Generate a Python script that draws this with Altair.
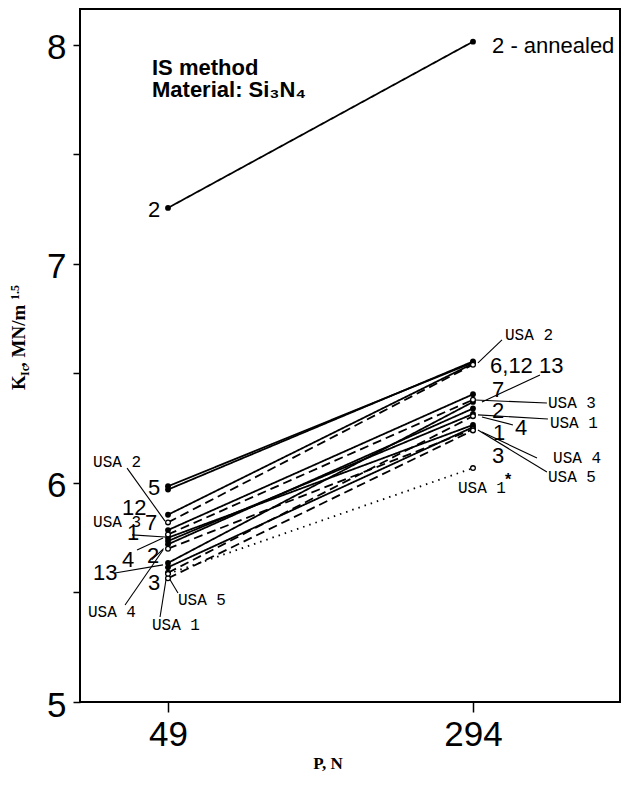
import altair as alt
import pandas as pd

# ---------------- data ----------------
loads = [49, 294]
series = ["2 annealed", "5", "6", "12", "USA 2", "7", "USA 3", "1", "4", "2",
          "USA 4", "13", "3", "USA 1", "USA 5", "USA 1*"]
k_at_49 = [7.256, 5.985, 5.97, 5.855, 5.82, 5.785, 5.765, 5.75, 5.735, 5.72,
           5.70, 5.635, 5.615, 5.59, 5.565, 5.585]
k_at_294 = [8.015, 6.55, 6.555, 6.545, 6.54, 6.405, 6.38, 6.265, 6.315, 6.34,
            6.245, 6.37, 6.255, 6.305, 6.24, 6.068]
line_style = ["solid", "solid", "solid", "solid", "dashed", "solid", "dashed", "solid",
              "solid", "solid", "dashed", "solid", "solid", "dashed", "dashed", "dotted"]
marker = ["filled", "filled", "filled", "filled", "open", "filled", "open", "filled",
          "filled", "filled", "open", "filled", "filled", "open", "open", "open"]

# point labels (sans digits)
num_text = ["2", "5", "12", "7", "1", "4", "2", "13", "3",
            "2 - annealed", "6,12  13", "7", "2", "4", "1", "3"]
num_P = [32.9, 32.9, 12.1, 30.5, 16.1, 12.1, 32.1, -11.2, 32.9,
         309.3, 307.7, 309.3, 309.3, 327.7, 310.1, 309.3]
num_K = [7.215, 5.945, 5.854, 5.785, 5.740, 5.616, 5.635, 5.557, 5.511,
         7.963, 6.502, 6.393, 6.297, 6.219, 6.196, 6.091]

# point labels (typewriter)
usa_text = ["USA 2", "USA 3", "USA 4", "USA 5", "USA 1",
            "USA 2", "USA 3", "USA 1", "USA 4", "USA 5", "USA 1"]
usa_P = [-11.2, -11.2, -15.3, 57.0, 36.1,
         319.7, 354.2, 355.8, 358.3, 354.2, 281.9]
usa_K = [6.073, 5.799, 5.388, 5.443, 5.329,
         6.653, 6.342, 6.251, 6.091, 6.005, 5.954]

# leader lines
lead_P1 = [16.1, 20.1, 6.4, 14.5, 57.0, 42.6, 24.1, 36.0,
           317.3, 347.8, 353.4, 354.2, 326.1, 345.4, 353.4]
lead_K1 = [6.068, 5.763, 5.589, 5.443, 5.498, 5.388, 5.694, 5.650,
           6.653, 6.493, 6.365, 6.292, 6.265, 6.114, 6.050]
lead_P2 = [46.6, 46.6, 45.0, 45.0, 49.8, 49.0, 45.0, 45.5,
           298.0, 301.2, 295.6, 298.0, 301.2, 301.2, 298.0]
lead_K2 = [5.826, 5.753, 5.626, 5.694, 5.566, 5.616, 5.749, 5.700,
           6.548, 6.370, 6.379, 6.311, 6.301, 6.233, 6.242]

# ---------------- tables ----------------
rows = []
for s, a, b, st, mk in zip(series, k_at_49, k_at_294, line_style, marker):
    rows.append({"series": s, "P": loads[0], "K": a, "style": st, "marker": mk})
    rows.append({"series": s, "P": loads[1], "K": b, "style": st, "marker": mk})
df = pd.DataFrame(rows)

num_df = pd.DataFrame({"text": num_text, "P": num_P, "K": num_K})
usa_df = pd.DataFrame({"text": usa_text, "P": usa_P, "K": usa_K})
lead_df = pd.DataFrame({"P1": lead_P1, "K1": lead_K1, "P2": lead_P2, "K2": lead_K2})

xscale = alt.Scale(domain=[-21.7, 412.1], nice=False, zero=False)
yscale = alt.Scale(domain=[5, 8.164], nice=False, zero=False)

x_enc = alt.X("P:Q", scale=xscale,
              axis=alt.Axis(values=loads, title=None, grid=False, domain=False,
                            tickSize=10, tickWidth=1.5, tickColor="black",
                            labelFont="Liberation Sans", labelFontSize=35,
                            labelColor="black", labelPadding=5))
y_enc = alt.Y("K:Q", scale=yscale,
              axis=alt.Axis(values=[5, 5.5, 6, 6.5, 7, 7.5, 8], title=None, grid=False,
                            domain=False, tickSize=7, tickWidth=1.5, tickColor="black",
                            labelExpr="datum.value % 1 === 0 ? format(datum.value, 'd') : ''",
                            labelFont="Liberation Sans", labelFontSize=35,
                            labelColor="black", labelPadding=7, labelOffset=3))

base = alt.Chart(df)

lines = base.mark_line(color="black", strokeWidth=1.8).encode(
    x=x_enc, y=y_enc, detail="series:N",
    strokeDash=alt.StrokeDash("style:N", legend=None,
                              scale=alt.Scale(domain=["solid", "dashed", "dotted"],
                                              range=[[1, 0], [9, 5], [1.5, 5]])),
)

filled_pts = base.transform_filter(alt.datum.marker == "filled").mark_circle(
    color="black", size=34, opacity=1).encode(
    x=alt.X("P:Q", scale=xscale), y=alt.Y("K:Q", scale=yscale))

open_pts = base.transform_filter(alt.datum.marker == "open").mark_point(
    shape="circle", filled=False, fill="white", fillOpacity=1, stroke="black",
    strokeWidth=1.3, size=22, opacity=1).encode(
    x=alt.X("P:Q", scale=xscale), y=alt.Y("K:Q", scale=yscale))

leaders = alt.Chart(lead_df).mark_rule(color="black", strokeWidth=1.1).encode(
    x=alt.X("P1:Q", scale=xscale), y=alt.Y("K1:Q", scale=yscale),
    x2="P2:Q", y2="K2:Q")

num_labels = alt.Chart(num_df).mark_text(
    font="Liberation Sans", fontSize=22, align="left", baseline="alphabetic",
    color="black").encode(
    x=alt.X("P:Q", scale=xscale), y=alt.Y("K:Q", scale=yscale), text="text:N")

usa_labels = alt.Chart(usa_df).mark_text(
    font="Liberation Mono", fontSize=16, align="left", baseline="alphabetic",
    color="black").encode(
    x=alt.X("P:Q", scale=xscale), y=alt.Y("K:Q", scale=yscale), text="text:N")

one = pd.DataFrame({"a": [0]})


def txt(t, x, y, **kw):
    return alt.Chart(one).mark_text(text=t, color="black", **kw).encode(
        x=alt.value(x), y=alt.value(y))


star = txt("*", 425, 476, font="Liberation Sans", fontSize=16, fontWeight="bold",
           align="left", baseline="alphabetic")

anno1 = txt("IS  method", 72, 66, font="Liberation Sans", fontSize=22,
            fontWeight="bold", align="left", baseline="alphabetic")
anno2 = txt("Material: Si\u2083N\u2084", 72, 88, font="Liberation Sans", fontSize=22,
            fontWeight="bold", align="left", baseline="alphabetic")

ytitle_parts = [
    txt("K", -55, 381, font="Liberation Serif", fontSize=19, fontWeight="bold",
        angle=270, align="left", baseline="alphabetic"),
    txt("Ic", -51, 367, font="Liberation Serif", fontSize=12, fontWeight="bold",
        angle=270, align="left", baseline="alphabetic"),
    txt(",  MN/m", -55, 358, font="Liberation Serif", fontSize=19, fontWeight="bold",
        angle=270, align="left", baseline="alphabetic"),
    txt("1.5", -61, 291, font="Liberation Serif", fontSize=12, fontWeight="bold",
        angle=270, align="left", baseline="alphabetic"),
]

xtitle = txt("P,  N", 248, 760, font="Liberation Serif", fontSize=17,
             fontWeight="bold", align="center", baseline="alphabetic")

chart = alt.layer(
    lines, leaders, filled_pts, open_pts, num_labels, usa_labels, star,
    anno1, anno2, xtitle, *ytitle_parts
).properties(
    width=540, height=693,
    autosize=alt.AutoSizeParams(type="none"),
    padding={"left": 72, "top": 1, "right": 2, "bottom": 72},
).configure_view(
    stroke="black", strokeWidth=2
)

chart.save("out.html", embed_options={"renderer": "svg", "actions": False})
